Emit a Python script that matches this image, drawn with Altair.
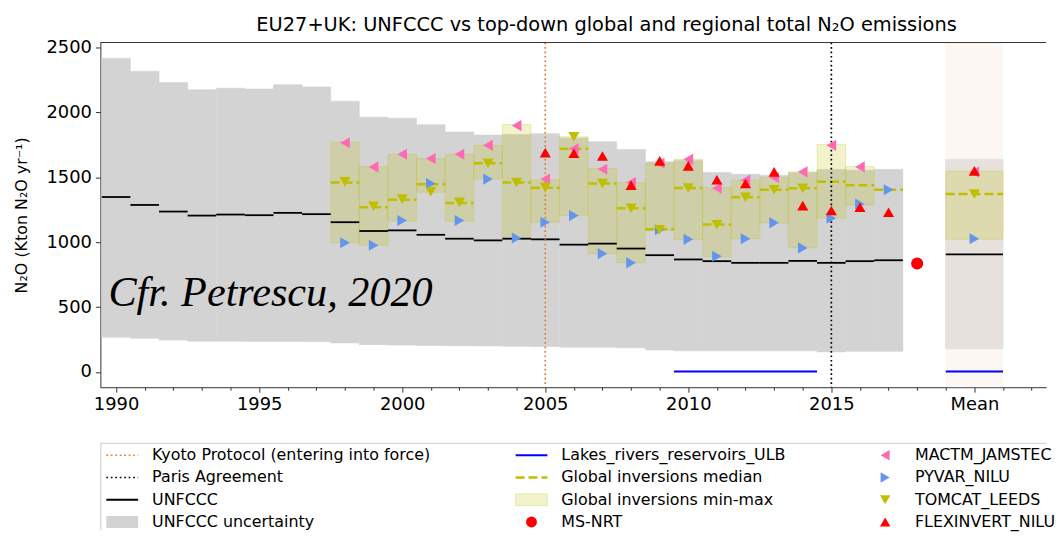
import altair as alt
import pandas as pd

# ---------------- data ----------------
years = list(range(1990, 2018))
unfccc = [1348, 1287, 1236, 1205, 1213, 1208, 1226, 1216, 1154, 1086, 1091, 1057, 1027, 1014,
          1027, 1022, 981, 989, 951, 900, 867, 854, 841, 841, 856, 841, 854, 861]
unfccc_low = [268, 260, 246, 238, 237, 236, 236, 234, 224, 211, 208, 205, 203, 201,
              199, 197, 191, 191, 187, 170, 163, 163, 163, 163, 163, 155, 160, 160]
unfccc_high = [2417, 2317, 2230, 2174, 2186, 2180, 2213, 2196, 2086, 1963, 1955, 1905, 1848, 1825,
               1830, 1836, 1803, 1773, 1714, 1620, 1630, 1536, 1523, 1516, 1536, 1560, 1555, 1561]

inv_years = list(range(1998, 2017))
inv_min = [996, 976, 1162, 1384, 1162, 1486, 1027, 1154, 1205, 912, 841, 1091, 1019,
           887, 1027, 1149, 956, 1185, 1287]
inv_max = [1771, 1583, 1677, 1644, 1677, 1746, 1906, 1481, 1812, 1567, 1460, 1608, 1638,
           1422, 1478, 1498, 1542, 1753, 1583]
med_years = list(range(1998, 2018))
inv_median = [1460, 1269, 1327, 1447, 1302, 1608, 1460, 1420, 1720, 1452, 1261, 1100, 1417,
              1137, 1346, 1404, 1415, 1465, 1438, 1404]

mactm_years = list(range(1998, 2017))
mactm = [1766, 1580, 1677, 1644, 1677, 1746, 1898, 1486, 1720, 1562, 1460, 1608, 1638,
         1415, 1478, 1498, 1542, 1746, 1580]
pyvar_years = list(range(1998, 2018))
pyvar = [996, 976, 1167, 1452, 1167, 1486, 1032, 1154, 1205, 912, 841, 1096, 1022,
         892, 1027, 1149, 956, 1185, 1294, 1404]
tomcat_years = list(range(1998, 2015))
tomcat = [1465, 1277, 1333, 1389, 1307, 1608, 1460, 1422, 1812, 1452, 1261, 1096, 1417,
          1134, 1346, 1404, 1415]
flex_years = list(range(2005, 2018))
flexinvert = [1690, 1685, 1664, 1440, 1626, 1588, 1481, 1452, 1542, 1282, 1244, 1269, 1231]

msnrt_years = [2018]
msnrt = [836]

lakes_start = [2009.5]
lakes_end = [2014.5]
lakes = [4]

# "Mean" column (plotted at x = 2020, spanning 2019-2021)
MEAN_X = 2020
unfccc_mean, unfccc_mean_low, unfccc_mean_high = 907, 178, 1638
inv_mean_min, inv_mean_max, inv_mean_median = 1022, 1547, 1371
mactm_mean, pyvar_mean, tomcat_mean, flex_mean = 1540, 1027, 1371, 1549
lakes_mean = 4

kyoto_year = [2005]
paris_year = [2015]

# ---------------- styling ----------------
FONT = "DejaVu Sans"
GRAY = "#d3d3d3"
OLIVE = "#bfbf00"
PINK = "#ff69b4"
BLUE = "#6495ed"
ORANGE = "#e07b39"
W, H = 952, 347
X_DOM = [1989.45, 1989.45 + W / 28.8]
Y_DOM = [-117, 2538]

xs = alt.Scale(domain=X_DOM, nice=False, zero=False)
ys = alt.Scale(domain=Y_DOM, nice=False, zero=False)

# ---------------- tables ----------------
unf_df = pd.DataFrame({
    "x0": [y - 0.5 for y in years] + [MEAN_X - 1],
    "x1": [y + 0.5 for y in years] + [MEAN_X + 1],
    "v": unfccc + [unfccc_mean],
    "lo": unfccc_low + [unfccc_mean_low],
    "hi": unfccc_high + [unfccc_mean_high],
})
band_df = pd.DataFrame({"x0": [MEAN_X - 1], "x1": [MEAN_X + 1]})
inv_df = pd.DataFrame({
    "x0": [y - 0.5 for y in inv_years] + [MEAN_X - 1],
    "x1": [y + 0.5 for y in inv_years] + [MEAN_X + 1],
    "lo": inv_min + [inv_mean_min],
    "hi": inv_max + [inv_mean_max],
})
med_df = pd.DataFrame({
    "x0": [y - 0.5 for y in med_years] + [MEAN_X - 1],
    "x1": [y + 0.5 for y in med_years] + [MEAN_X + 1],
    "v": inv_median + [inv_mean_median],
})
lakes_df = pd.DataFrame({"x0": lakes_start + [MEAN_X - 1], "x1": lakes_end + [MEAN_X + 1],
                         "v": lakes + [lakes_mean]})


def pts(yrs, vals, mean):
    return pd.DataFrame({"x": list(yrs) + [MEAN_X], "v": list(vals) + [mean]})


X_AX = alt.Axis(
    values=list(range(1990, 2023)), format="d",
    labelExpr="datum.value == 2020 ? 'Mean' : ((datum.value % 5 == 0 && datum.value < 2020) ? datum.label : '')",
    tickSize={"condition": {"test": "datum.value % 5 == 0", "value": 5}, "value": 3},
    labelFontSize=18, labelFont=FONT, labelColor="black", labelPadding=3, labelOverlap=False,
    domainColor="#333", tickColor="#333", grid=False, title=None, labelFlush=False)
Y_AX = alt.Axis(values=[0, 500, 1000, 1500, 2000, 2500], format="d", tickSize=5, labelFontSize=18,
                labelFont=FONT, labelColor="black", labelPadding=4, grid=False, labelOverlap=False,
                domainColor="#333", tickColor="#333",
                title="N\u2082O (Kton N\u2082O yr\u207b\u00b9)", titleFont=FONT,
                titleFontSize=16, titleFontWeight="normal", titleColor="black", titlePadding=17)


def XQ(f):
    return alt.X(f, scale=xs, axis=X_AX)


def YQ(f):
    return alt.Y(f, scale=ys, axis=Y_AX)


gray = alt.Chart(unf_df).mark_rect(color=GRAY, stroke=GRAY, strokeWidth=0.6).encode(
    x=XQ("x0:Q"), x2="x1:Q", y=YQ("lo:Q"), y2="hi:Q")
band = alt.Chart(band_df).mark_rect(color="linen", opacity=0.5).encode(
    x=XQ("x0:Q"), x2="x1:Q", y=alt.value(0), y2=alt.value(H))
boxes = alt.Chart(inv_df).mark_rect(fill=OLIVE, fillOpacity=0.2, stroke=OLIVE,
                                    strokeOpacity=0.25, strokeWidth=1).encode(
    x=XQ("x0:Q"), x2="x1:Q", y=YQ("lo:Q"), y2="hi:Q")
unf_line = alt.Chart(unf_df).mark_rule(color="black", strokeWidth=1.8).encode(
    x=XQ("x0:Q"), x2="x1:Q", y=YQ("v:Q"))
med_line = alt.Chart(med_df).mark_rule(color=OLIVE, strokeWidth=2.5, strokeDash=[9, 4]).encode(
    x=XQ("x0:Q"), x2="x1:Q", y=YQ("v:Q"))
lakes_line = alt.Chart(lakes_df).mark_rule(color="blue", strokeWidth=2).encode(
    x=XQ("x0:Q"), x2="x1:Q", y=YQ("v:Q"))
kyoto = alt.Chart(pd.DataFrame({"x": kyoto_year})).mark_rule(
    color=ORANGE, strokeWidth=1.7, strokeDash=[1.7, 2.8]).encode(
    x=XQ("x:Q"), y=alt.value(0), y2=alt.value(H))
paris = alt.Chart(pd.DataFrame({"x": paris_year})).mark_rule(
    color="black", strokeWidth=1.7, strokeDash=[1.7, 2.8]).encode(
    x=XQ("x:Q"), y=alt.value(0), y2=alt.value(H))
top_frame = alt.Chart(pd.DataFrame({"x": [0]})).mark_rule(color="#333", strokeWidth=1).encode(
    x=alt.value(0), x2=alt.value(W), y=alt.value(0))


def markers(df, shape, color, size=125):
    return alt.Chart(df).mark_point(shape=shape, filled=True, color=color, size=size,
                                    opacity=1, strokeWidth=0).encode(
        x=XQ("x:Q"), y=YQ("v:Q"))


m_mactm = markers(pts(mactm_years, mactm, mactm_mean), "triangle-left", PINK)
m_pyvar = markers(pts(pyvar_years, pyvar, pyvar_mean), "triangle-right", BLUE)
m_tomcat = markers(pts(tomcat_years, tomcat, tomcat_mean), "triangle-down", OLIVE)
m_flex = markers(pts(flex_years, flexinvert, flex_mean), "triangle-up", "red")
m_msnrt = alt.Chart(pd.DataFrame({"x": msnrt_years, "v": msnrt})).mark_point(
    shape="circle", filled=True, color="red", size=150, opacity=1).encode(
    x=XQ("x:Q"), y=YQ("v:Q"))

stamp = alt.Chart(pd.DataFrame({"x": [1989.73], "v": [512], "t": ["Cfr. Petrescu, 2020"]})).mark_text(
    font="Liberation Serif", fontStyle="italic", fontSize=42.5, align="left",
    baseline="alphabetic", color="black").encode(
    x=XQ("x:Q"), y=YQ("v:Q"), text="t:N")

main = alt.layer(gray, band, boxes, unf_line, med_line, lakes_line, kyoto, paris,
                 m_mactm, m_pyvar, m_tomcat, m_flex, m_msnrt, stamp, top_frame).properties(
    width=W, height=H,
    title=alt.TitleParams("EU27+UK: UNFCCC vs top-down global and regional total N\u2082O emissions",
                          font=FONT, fontSize=19.5, fontWeight="normal", color="black",
                          frame="group", anchor="start", offset=3, dx=157),
    view=alt.ViewBackground(stroke=None))

# ---------------- legend panel ----------------
LH = 88
lx = alt.Scale(domain=[0, W], range=[0, W], nice=False, zero=False)
ly = alt.Scale(domain=[0, LH], range=[0, LH], nice=False, zero=False)

legend_col1 = ["Kyoto Protocol (entering into force)", "Paris Agreement", "UNFCCC", "UNFCCC uncertainty"]
legend_col2 = ["Lakes_rivers_reservoirs_ULB", "Global inversions median", "Global inversions min-max", "MS-NRT"]
legend_col3 = ["MACTM_JAMSTEC", "PYVAR_NILU", "TOMCAT_LEEDS", "FLEXINVERT_NILU"]
ROW0, ROWSTEP = 12.5, 22.4
COLS = [(6, 38, 52), (418, 450, 464), (776, 804, 820)]

lab_rows = []
for ci, labels in enumerate([legend_col1, legend_col2, legend_col3]):
    for ri, lab in enumerate(labels):
        lab_rows.append({"tx": COLS[ci][2], "ty": ROW0 + ROWSTEP * ri, "t": lab})
lab_df = pd.DataFrame(lab_rows)

NOAX = None
texts = alt.Chart(lab_df).mark_text(align="left", baseline="middle", fontSize=16, font=FONT,
                                    color="black").encode(
    x=alt.X("tx:Q", scale=lx, axis=NOAX), y=alt.Y("ty:Q", scale=ly, axis=NOAX), text="t:N")


def leg_rule(col, row, color, width, dash=None):
    kw = dict(color=color, strokeWidth=width)
    if dash:
        kw["strokeDash"] = dash
    d = pd.DataFrame({"a": [COLS[col][0]], "b": [COLS[col][1]], "y": [ROW0 + ROWSTEP * row]})
    return alt.Chart(d).mark_rule(**kw).encode(
        x=alt.X("a:Q", scale=lx, axis=NOAX), x2="b:Q", y=alt.Y("y:Q", scale=ly, axis=NOAX))


def leg_rect(col, row, **kw):
    yc = ROW0 + ROWSTEP * row
    d = pd.DataFrame({"a": [COLS[col][0]], "b": [COLS[col][1]], "y0": [yc - 6], "y1": [yc + 6]})
    return alt.Chart(d).mark_rect(**kw).encode(
        x=alt.X("a:Q", scale=lx, axis=NOAX), x2="b:Q",
        y=alt.Y("y0:Q", scale=ly, axis=NOAX), y2="y1:Q")


def leg_pt(col, row, shape, color, size=110):
    d = pd.DataFrame({"x": [(COLS[col][0] + COLS[col][1]) / 2], "y": [ROW0 + ROWSTEP * row]})
    return alt.Chart(d).mark_point(shape=shape, filled=True, color=color, size=size,
                                   opacity=1, strokeWidth=0).encode(
        x=alt.X("x:Q", scale=lx, axis=NOAX), y=alt.Y("y:Q", scale=ly, axis=NOAX))


leg_frame_top = alt.Chart(pd.DataFrame({"x": [0]})).mark_rule(color="#cccccc", strokeWidth=1).encode(
    x=alt.value(0), x2=alt.value(W), y=alt.value(0.5))
leg_frame_left = alt.Chart(pd.DataFrame({"x": [0]})).mark_rule(color="#cccccc", strokeWidth=1).encode(
    x=alt.value(0.5), y=alt.value(0), y2=alt.value(LH))

legend = alt.layer(
    leg_frame_top, leg_frame_left,
    leg_rule(0, 0, ORANGE, 1.7, [1.7, 2.8]),
    leg_rule(0, 1, "black", 1.7, [1.7, 2.8]),
    leg_rule(0, 2, "black", 2),
    leg_rect(0, 3, color=GRAY),
    leg_rule(1, 0, "blue", 2),
    leg_rule(1, 1, OLIVE, 2.5, [9, 4]),
    leg_rect(1, 2, fill=OLIVE, fillOpacity=0.2, stroke=OLIVE, strokeOpacity=0.25),
    leg_pt(1, 3, "circle", "red", 120),
    leg_pt(2, 0, "triangle-left", PINK),
    leg_pt(2, 1, "triangle-right", BLUE),
    leg_pt(2, 2, "triangle-down", OLIVE),
    leg_pt(2, 3, "triangle-up", "red"),
    texts,
).properties(width=W, height=LH, view=alt.ViewBackground(stroke=None))

chart = alt.vconcat(main, legend, spacing=56, bounds="flush").properties(
    padding={"left": 5, "top": 5, "right": 0, "bottom": 0}
).configure(font=FONT, background="white").configure_axis(labelOverlap=False)

chart.save("out.html", embed_options={"renderer": "svg", "actions": False})
